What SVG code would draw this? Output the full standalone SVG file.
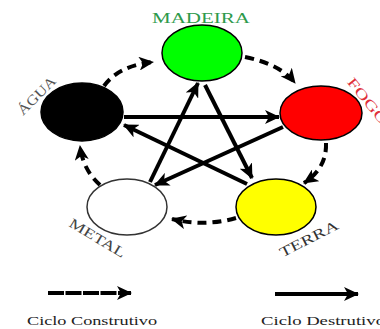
<svg xmlns="http://www.w3.org/2000/svg" width="380" height="329" viewBox="0 0 380 329">
<defs>
<marker id="ah" markerUnits="userSpaceOnUse" markerWidth="16" markerHeight="14" refX="14" refY="7" orient="auto" viewBox="0 0 16 14">
<path d="M0,0 L15,7 L0,14 L4,7 z" fill="#000"/>
</marker>
<style>
.lbl{font-family:"Liberation Serif","Times New Roman",serif;font-size:14px;}
.leg{font-family:"Liberation Serif","Times New Roman",serif;font-size:12.5px;fill:#222;}
.node{stroke-width:1.5;}
.solid{fill:none;stroke:#000;stroke-width:4;marker-end:url(#ah);}
.dash{fill:none;stroke:#000;stroke-width:4;stroke-dasharray:9 6;marker-end:url(#ah);}
</style>
</defs>
<rect width="380" height="329" fill="#fff"/>
<g id="connectors">
<path class="dash" d="M104,86 Q118,66 153,62"/>
<path class="dash" d="M245,57 Q280,64 295,83"/>
<path class="dash" d="M326,143 Q327,168 304,183"/>
<path class="dash" d="M236,218 Q205,227 172,219"/>
<path class="dash" d="M100,185 Q83,170 80,146"/>
<path class="solid" d="M124,117 L279,117"/>
<path class="solid" d="M283,127 L155,185"/>
<path class="solid" d="M150,182 L198,83"/>
<path class="solid" d="M205,85 L252,178"/>
<path class="solid" d="M247,184 L124,125"/>
</g>
<g id="madeira">
<ellipse class="node" cx="202" cy="53" rx="40" ry="28" fill="#00ff00" stroke="#000"/>
<text class="lbl" x="201" y="23" text-anchor="middle" textLength="98" lengthAdjust="spacingAndGlyphs" fill="#2e9a4c">MADEIRA</text>
</g>
<g id="fogo">
<ellipse class="node" cx="321" cy="113" rx="41" ry="27" fill="#ff0000" stroke="#000"/>
<text class="lbl" transform="translate(364,104) rotate(51)" text-anchor="middle" textLength="56" lengthAdjust="spacingAndGlyphs" fill="#e0303a">FOGO</text>
</g>
<g id="agua">
<ellipse class="node" cx="82" cy="112" rx="41" ry="29" fill="#000" stroke="#000"/>
<text class="lbl" transform="translate(40,99) rotate(-45)" text-anchor="middle" textLength="48" lengthAdjust="spacingAndGlyphs" fill="#555">ÁGUA</text>
</g>
<g id="metal">
<ellipse class="node" cx="127" cy="207" rx="40" ry="28" fill="#fff" stroke="#333"/>
<text class="lbl" transform="translate(95,242) rotate(31)" text-anchor="middle" textLength="63" lengthAdjust="spacingAndGlyphs" fill="#444">METAL</text>
</g>
<g id="terra">
<ellipse class="node" cx="276" cy="207" rx="40" ry="28" fill="#ffff00" stroke="#000"/>
<text class="lbl" transform="translate(311,243) rotate(-27)" text-anchor="middle" textLength="64" lengthAdjust="spacingAndGlyphs" fill="#333">TERRA</text>
</g>
<g id="legend">
<path d="M48,293 L131,293" fill="none" stroke="#000" stroke-width="4" stroke-dasharray="16 1.5" marker-end="url(#ah)"/>
<path d="M275,294 L358,294" fill="none" stroke="#000" stroke-width="4" marker-end="url(#ah)"/>
<text class="leg" x="27" y="325" textLength="130" lengthAdjust="spacingAndGlyphs">Ciclo Construtivo</text>
<text class="leg" x="261" y="325" textLength="124" lengthAdjust="spacingAndGlyphs">Ciclo Destrutivo</text>
</g>
</svg>
